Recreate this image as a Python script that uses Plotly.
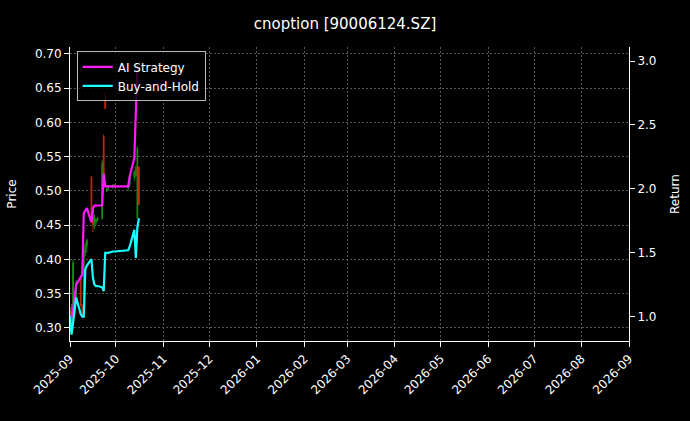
import plotly.graph_objects as go

dates = ["2025-09-01", "2025-09-02", "2025-09-03", "2025-09-04", "2025-09-05",
         "2025-09-08", "2025-09-09", "2025-09-10", "2025-09-11", "2025-09-12",
         "2025-09-15", "2025-09-16", "2025-09-17", "2025-09-18", "2025-09-19",
         "2025-09-22", "2025-09-23", "2025-09-24", "2025-09-25", "2025-09-26",
         "2025-09-29", "2025-09-30", "2025-10-09", "2025-10-10", "2025-10-13",
         "2025-10-14", "2025-10-15", "2025-10-16"]
opens = [0.320, 0.330, 0.310, 0.325, 0.345, 0.372, 0.330, 0.320, 0.410, 0.420,
         0.520, 0.470, 0.450, 0.455, 0.458, 0.460, 0.580, 0.640, 0.500, 0.505,
         0.507, 0.508, 0.505, 0.510, 0.520, 0.535, 0.460, 0.535]
highs = [0.330, 0.335, 0.400, 0.350, 0.370, 0.375, 0.335, 0.420, 0.425, 0.430,
         0.522, 0.475, 0.465, 0.460, 0.462, 0.545, 0.582, 0.642, 0.505, 0.508,
         0.510, 0.510, 0.510, 0.525, 0.530, 0.537, 0.565, 0.535]
lows = [0.315, 0.300, 0.310, 0.320, 0.340, 0.330, 0.315, 0.318, 0.405, 0.410,
        0.455, 0.440, 0.445, 0.450, 0.455, 0.458, 0.510, 0.620, 0.498, 0.500,
        0.503, 0.505, 0.500, 0.505, 0.515, 0.520, 0.460, 0.480]
closes = [0.325, 0.310, 0.395, 0.345, 0.365, 0.332, 0.318, 0.415, 0.420, 0.428,
          0.455, 0.450, 0.460, 0.458, 0.460, 0.540, 0.510, 0.620, 0.503, 0.507,
          0.508, 0.507, 0.508, 0.522, 0.528, 0.522, 0.562, 0.480]
ai_strategy = [1.00, 1.00, 1.05, 1.13, 1.25, 1.31, 1.33, 1.81, 1.83, 1.85,
               1.74, 1.85, 1.87, 1.87, 1.87, 1.87, 2.12, 2.02, 2.02, 2.02,
               2.02, 2.02, 2.02, 2.10, 2.24, 2.60, 2.95, 2.95]
buy_hold = [1.00, 0.86, 0.95, 1.08, 1.15, 1.02, 1.00, 1.00, 1.37, 1.40,
            1.45, 1.30, 1.25, 1.24, 1.24, 1.23, 1.20, 1.50, 1.50, 1.50,
            1.51, 1.51, 1.52, 1.55, 1.68, 1.46, 1.70, 1.77]
ticks = ["2025-09-01", "2025-10-01", "2025-11-01", "2025-12-01", "2026-01-01",
         "2026-02-01", "2026-03-01", "2026-04-01", "2026-05-01", "2026-06-01",
         "2026-07-01", "2026-08-01", "2026-09-01"]

fig = go.Figure()
fig.add_trace(go.Candlestick(
    x=dates, open=opens, high=highs, low=lows, close=closes,
    increasing=dict(line=dict(color="#1a8a1a", width=1), fillcolor="#1a8a1a"),
    decreasing=dict(line=dict(color="#c02a10", width=1), fillcolor="#c02a10"),
    whiskerwidth=0, showlegend=False,
))
fig.add_trace(go.Scatter(x=dates, y=ai_strategy, name="AI Strategy", yaxis="y2",
                         mode="lines", line=dict(color="#ff1aff", width=2.2)))
fig.add_trace(go.Scatter(x=dates, y=buy_hold, name="Buy-and-Hold", yaxis="y2",
                         mode="lines", line=dict(color="#1affff", width=2.2)))

grid = dict(showgrid=True, gridcolor="#555555", griddash="2px,2px", gridwidth=0.5,
            showline=True, linecolor="white", mirror=False, ticks="outside",
            tickcolor="white", tickfont=dict(color="white", size=12), zeroline=False,
            automargin=False)
fig.update_layout(
    title=dict(text="cnoption [90006124.SZ]", x=0.5, y=0.955, xanchor="center",
               font=dict(color="white", size=15)),
    paper_bgcolor="black", plot_bgcolor="black",
    font=dict(family="DejaVu Sans", color="white"),
    width=690, height=421,
    margin=dict(l=70, r=61, t=47, b=80),
    xaxis=dict(**grid, type="date", range=["2025-09-01", "2026-09-01"],
               tickvals=ticks, ticktext=[t[:7] for t in ticks], tickangle=-45,
               rangeslider=dict(visible=False)),
    yaxis=dict(**grid, title=dict(text="Price", font=dict(size=12)),
               range=[0.281, 0.710], dtick=0.05, tickformat=".2f"),
    yaxis2=dict(showline=True, linecolor="white", ticks="outside", tickcolor="white",
                tickfont=dict(color="white", size=12), overlaying="y", side="right",
                showgrid=False, zeroline=False, range=[0.81, 3.11], dtick=0.5,
                tickformat=".1f", automargin=False,
                title=dict(text="Return", font=dict(size=12))),
    legend=dict(x=0.012, y=0.985, xanchor="left", yanchor="top",
                bgcolor="rgba(0,0,0,0.8)", bordercolor="#bbbbbb", borderwidth=1,
                font=dict(color="white", size=12)),
)
fig.write_html("out.html", config={"displayModeBar": False},
               post_script="document.body.style.margin='0';document.body.style.background='black';")
